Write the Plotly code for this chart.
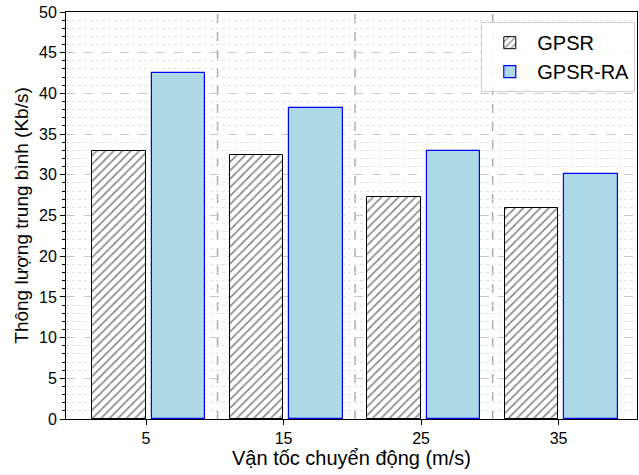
import plotly.graph_objects as go

categories = ["5", "15", "25", "35"]
gpsr = [32.9, 32.4, 27.3, 25.9]
gpsr_ra = [42.5, 38.2, 32.9, 30.1]
separators = [0.52, 1.52, 2.52]

idx = list(range(len(categories)))
w = 0.39
fig = go.Figure()
fig.add_trace(go.Bar(
    x=[i - 0.197 for i in idx], y=gpsr, width=w, name="GPSR",
    marker=dict(color="white", line=dict(color="black", width=1),
                pattern=dict(shape="/", fgcolor="black", bgcolor="white", size=6, solidity=0.25)),
))
fig.add_trace(go.Bar(
    x=[i + 0.236 for i in idx], y=gpsr_ra, width=w, name="GPSR-RA",
    marker=dict(color="lightblue", line=dict(color="blue", width=1.2)),
))
for s in separators:
    fig.add_shape(type="line", xref="x", yref="paper", x0=s, x1=s, y0=0, y1=1,
                  line=dict(color="#aaaaaa", width=1.5, dash="dash"), layer="below")

fig.update_layout(
    width=639, height=475,
    margin=dict(l=66, r=2, t=12, b=56),
    plot_bgcolor="white", paper_bgcolor="white",
    barmode="overlay", bargap=0,
    font=dict(family="Liberation Sans, Arial, sans-serif", size=16, color="black"),
    showlegend=True,
    legend=dict(x=0.997, y=0.975, xanchor="right", yanchor="top",
                bgcolor="rgba(255,255,255,0.85)", bordercolor="#d0d0d0", borderwidth=1,
                font=dict(size=20), itemwidth=45, tracegroupgap=4),
)
fig.update_xaxes(
    range=[-0.582, 3.57], tickmode="array", tickvals=idx, ticktext=categories,
    showgrid=False, showline=True, linecolor="black", linewidth=1, mirror=True,
    ticks="outside", ticklen=5, tickcolor="black", zeroline=False,
    tickfont=dict(size=16),
    title=dict(text="Vận tốc chuyển động (m/s)", font=dict(size=20), standoff=4),
)
fig.update_yaxes(
    range=[0, 50], dtick=5, showline=True, linecolor="black", linewidth=1, mirror=True,
    ticks="outside", ticklen=5, tickcolor="black", zeroline=False,
    tickfont=dict(size=16),
    showgrid=True, gridcolor="#c8c8c8", griddash="dash", gridwidth=1,
    minor=dict(dtick=1, ticks="outside", ticklen=3, tickcolor="black",
               showgrid=True, gridcolor="#e0e0e0", griddash="dot", gridwidth=1),
    title=dict(text="Thông lượng trung bình (Kb/s)", font=dict(size=19), standoff=5),
)
fig.write_html("out.html")
